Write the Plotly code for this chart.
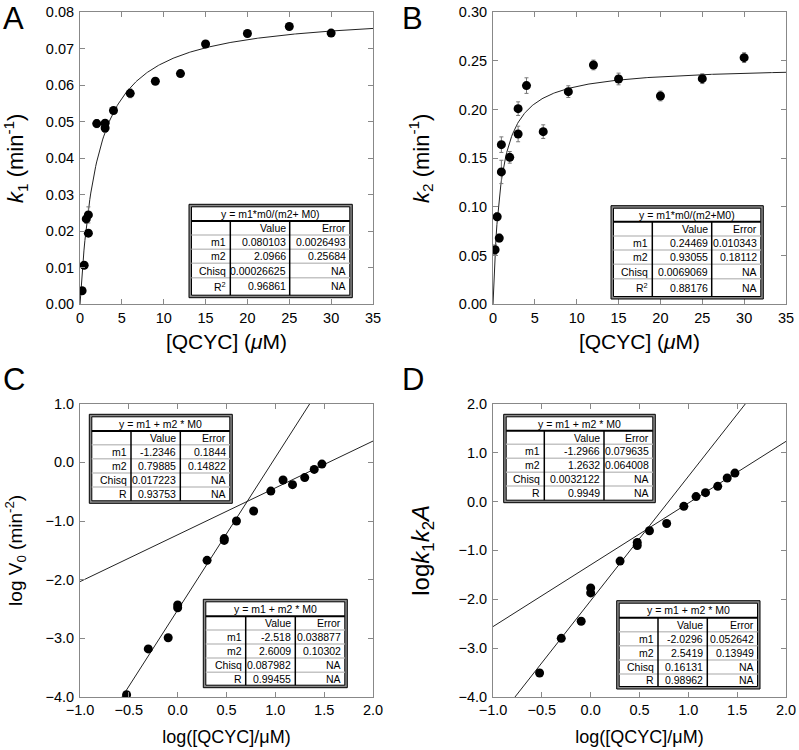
import numpy as np
import plotly.graph_objects as go

W, H = 799, 750
FONT = "Liberation Sans, Arial, sans-serif"

# ---- panel A: k1 vs [QCYC]
a_x = [0.25, 0.5, 0.75, 1.0, 1.0, 2, 3, 3, 4, 6, 9, 12, 15, 20, 25, 30]
a_y = [0.0037, 0.0107, 0.0234, 0.0245, 0.0195, 0.0495, 0.0496, 0.0483, 0.0531,
       0.0578, 0.0611, 0.0632, 0.0713, 0.0742, 0.0761, 0.0743]
a_err = [0.0004, 0.0005, 0.0012, 0.0022, 0.0005, 0.0011, 0.0006, 0.0012, 0.0006,
         0.0012, 0.0005, 0.0005, 0.0005, 0.0005, 0.0005, 0.0005]

# ---- panel B: k2 vs [QCYC]
b_x = [0.25, 0.5, 0.75, 1.0, 1.0, 2, 3, 3, 4, 6, 9, 12, 15, 20, 25, 30]
b_y = [0.056, 0.090, 0.068, 0.136, 0.164, 0.151, 0.175, 0.201, 0.2247, 0.1774,
       0.2185, 0.2459, 0.2315, 0.214, 0.2318, 0.2534]
b_err = [0.005, 0.004, 0.004, 0.012, 0.008, 0.006, 0.008, 0.007, 0.008, 0.007,
         0.006, 0.005, 0.006, 0.005, 0.005, 0.005]

# ---- panel C: log V0 vs log[QCYC]
c_x = [-0.523, -0.301, -0.097, 0.0, 0.0, 0.301, 0.477, 0.477, 0.602, 0.778,
       0.954, 1.079, 1.176, 1.301, 1.398, 1.477]
c_y = [-3.96, -3.18, -2.99, -2.43, -2.48, -1.67, -1.30, -1.33, -1.00, -0.83,
       -0.49, -0.30, -0.38, -0.26, -0.12, -0.03]

# ---- panel D: log k1k2A vs log[QCYC]
d_x = [-0.523, -0.301, -0.097, 0.0, 0.0, 0.301, 0.477, 0.477, 0.602, 0.778,
       0.954, 1.079, 1.176, 1.301, 1.398, 1.477]
d_y = [-3.51, -2.80, -2.45, -1.77, -1.87, -1.22, -0.84, -0.90, -0.60, -0.45,
       -0.10, 0.10, 0.18, 0.31, 0.48, 0.58]

# ---- fit tables (text as printed)
table_a_title = "y = m1*m0/(m2+ M0)"
table_a = [["m1", "0.080103", "0.0026493"], ["m2", "2.0966", "0.25684"],
           ["Chisq", "0.00026625", "NA"], ["R<sup>2</sup>", "0.96861", "NA"]]
table_b_title = "y = m1*m0/(m2+M0)"
table_b = [["m1", "0.24469", "0.010343"], ["m2", "0.93055", "0.18112"],
           ["Chisq", "0.0069069", "NA"], ["R<sup>2</sup>", "0.88176", "NA"]]
table_lin_title = "y = m1 + m2 * M0"
table_c1 = [["m1", "-1.2346", "0.1844"], ["m2", "0.79885", "0.14822"],
            ["Chisq", "0.017223", "NA"], ["R", "0.93753", "NA"]]
table_c2 = [["m1", "-2.518", "0.038877"], ["m2", "2.6009", "0.10302"],
            ["Chisq", "0.087982", "NA"], ["R", "0.99455", "NA"]]
table_d1 = [["m1", "-1.2966", "0.079635"], ["m2", "1.2632", "0.064008"],
            ["Chisq", "0.0032122", "NA"], ["R", "0.9949", "NA"]]
table_d2 = [["m1", "-2.0296", "0.052642"], ["m2", "2.5419", "0.13949"],
            ["Chisq", "0.16131", "NA"], ["R", "0.98962", "NA"]]


def params(tbl):
    return float(tbl[0][1]), float(tbl[1][1])


def px(x):
    return x / W


def py(y):
    return 1 - y / H


fig = go.Figure()
shapes, annotations = [], []

marker = dict(color="black", size=9)
errbar = dict(type="data", color="#777", thickness=1, width=2)
fitline = dict(color="#222", width=1)

# A
m1, m2 = params(table_a)
xa = np.linspace(0, 35, 300)
fig.add_trace(go.Scatter(x=xa, y=m1 * xa / (m2 + xa), mode="lines", line=fitline,
                         xaxis="x", yaxis="y"))
fig.add_trace(go.Scatter(x=a_x, y=a_y, mode="markers", marker=marker,
                         error_y=dict(array=a_err, **errbar), xaxis="x", yaxis="y"))
# B
m1, m2 = params(table_b)
fig.add_trace(go.Scatter(x=xa, y=m1 * xa / (m2 + xa), mode="lines", line=fitline,
                         xaxis="x2", yaxis="y2"))
fig.add_trace(go.Scatter(x=b_x, y=b_y, mode="markers", marker=marker,
                         error_y=dict(array=b_err, **errbar), xaxis="x2", yaxis="y2"))
# C, D straight lines
xl = np.array([-1.0, 2.0])
for tbl, ax, ay in [(table_c1, "x3", "y3"), (table_c2, "x3", "y3"),
                    (table_d1, "x4", "y4"), (table_d2, "x4", "y4")]:
    m1, m2 = params(tbl)
    fig.add_trace(go.Scatter(x=xl, y=m1 + m2 * xl, mode="lines", line=fitline,
                             xaxis=ax, yaxis=ay))
fig.add_trace(go.Scatter(x=c_x, y=c_y, mode="markers", marker=marker, xaxis="x3", yaxis="y3"))
fig.add_trace(go.Scatter(x=d_x, y=d_y, mode="markers", marker=marker, xaxis="x4", yaxis="y4"))


def add_table(box, cols, rows, title, body):
    l, t, r, b = box
    il, it, ir, ib = l + 2.5, t + 2.5, r - 2.5, b - 2.5
    shapes.append(dict(type="rect", xref="paper", yref="paper", x0=px(l), x1=px(r),
                       y0=py(b), y1=py(t), fillcolor="#8a8a8a", line=dict(color="black", width=1)))
    shapes.append(dict(type="rect", xref="paper", yref="paper", x0=px(il), x1=px(ir),
                       y0=py(ib), y1=py(it), fillcolor="white", line=dict(color="black", width=1)))
    for yy in rows[1:]:
        shapes.append(dict(type="line", xref="paper", yref="paper", x0=px(il), x1=px(ir),
                           y0=py(yy), y1=py(yy), line=dict(color="#c4c4c4", width=1.5)))
    shapes.append(dict(type="line", xref="paper", yref="paper", x0=px(il), x1=px(ir),
                       y0=py(rows[0]), y1=py(rows[0]), line=dict(color="black", width=2)))
    for xx in cols:
        shapes.append(dict(type="line", xref="paper", yref="paper", x0=px(xx), x1=px(xx),
                           y0=py(rows[0]), y1=py(ib), line=dict(color="black", width=1.5)))
    tf = dict(family=FONT, size=10.5, color="black")
    annotations.append(dict(text=title, x=px((il + ir) / 2), y=py((it + rows[0]) / 2),
                            xref="paper", yref="paper", showarrow=False, font=tf,
                            xanchor="center", yanchor="middle"))
    bounds = list(rows) + [ib]
    lines = [["", "Value", "Error"]] + body
    rights = [cols[0] - 2, cols[1] - 2, ir - 2]
    for i, row in enumerate(lines):
        yc = (bounds[i] + bounds[i + 1]) / 2
        for txt, xr in zip(row, rights):
            if txt:
                annotations.append(dict(text=txt, x=px(xr), y=py(yc), xref="paper",
                                        yref="paper", showarrow=False, font=tf,
                                        xanchor="right", yanchor="middle"))


add_table((189, 204.3, 352.3, 297.7), (230.3, 289.7), (221, 235, 249.3, 263.3, 277.7),
          table_a_title, table_a)
add_table((611, 205.7, 763.3, 299), (652.3, 711.7), (221.7, 236, 250, 264.3, 278.7),
          table_b_title, table_b)
add_table((89.3, 414.3, 232.3, 503.3), (131, 180.3), (431, 444.7, 458.7, 473, 487),
          table_lin_title, table_c1)
add_table((203.3, 599.3, 347.3, 687.7), (245.7, 295.3), (616.3, 630, 644, 658, 672.3),
          table_lin_title, table_c2)
add_table((503.7, 414.3, 655.3, 502.7), (544.3, 604), (430.7, 444.3, 458.3, 472.3, 486),
          table_lin_title, table_d1)
add_table((616.7, 600.7, 760, 689), (658, 707.3), (617.7, 631.7, 645.7, 660, 674),
          table_lin_title, table_d2)

# panel letters
for letter, x, y in [("A", 13, 19), ("B", 412, 19), ("C", 14, 379), ("D", 413, 379)]:
    annotations.append(dict(text=letter, x=px(x), y=py(y), xref="paper", yref="paper",
                            showarrow=False, font=dict(family=FONT, size=31, color="black"),
                            xanchor="center", yanchor="middle"))

tick_font = dict(family=FONT, size=14.5, color="black")


def axis(domain, rng, dtick, fmt, title, anchor, size, standoff, lab_off):
    return dict(domain=domain, range=rng, dtick=dtick, tickformat=fmt, anchor=anchor,
                automargin=False, showgrid=False, zeroline=False, showline=True,
                linecolor="#888", linewidth=1, mirror="ticks", ticks="inside", ticklen=5,
                tickcolor="#888", tickfont=tick_font, ticklabelstandoff=lab_off,
                title=dict(text=title, font=dict(family=FONT, size=size, color="black"),
                           standoff=standoff))


xl_dom = [px(80), px(373)]
xr_dom = [px(493), px(786)]
top_dom = [py(304.3), py(12.3)]
bot_dom = [py(697), py(403.7)]
conc = "[QCYC] (<i>μ</i>M)"
logc = "log([QCYC]/μM)"

fig.update_layout(
    width=W, height=H, margin=dict(l=0, r=0, t=0, b=0, autoexpand=False),
    plot_bgcolor="white", paper_bgcolor="white", showlegend=False,
    xaxis=axis(xl_dom, [0, 35], 5, "d", conc, "y", 21, 9, 0),
    yaxis=axis(top_dom, [0, 0.08], 0.01, ".2f",
               "<i>k</i><sub>1</sub> (min<sup>-1</sup>)", "x", 22, 23, 2),
    xaxis2=axis(xr_dom, [0, 35], 5, "d", conc, "y2", 21, 9, 0),
    yaxis2=axis(top_dom, [0, 0.30], 0.05, ".2f",
                "<i>k</i><sub>2</sub> (min<sup>-1</sup>)", "x2", 22, 23, 2),
    xaxis3=axis(xl_dom, [-1, 2], 0.5, ".1f", logc, "y3", 18, 12, 0),
    yaxis3=axis(bot_dom, [-4, 1], 1, ".1f",
                "log V<sub>0</sub> (min<sup>-2</sup>)", "x3", 19, 17, 2),
    xaxis4=axis(xr_dom, [-1, 2], 0.5, ".1f", logc, "y4", 18, 12, 0),
    yaxis4=axis(bot_dom, [-4, 2], 1, ".1f",
                "log<i>k</i><sub>1</sub><i>k</i><sub>2</sub><i>A</i>", "x4", 24, 22, 2),
    shapes=shapes, annotations=annotations,
)

# drop the default page margin so the figure sits at the window corner
fig.write_html("out.html", config={"displayModeBar": False},
               post_script="document.body.style.margin='0px';")
